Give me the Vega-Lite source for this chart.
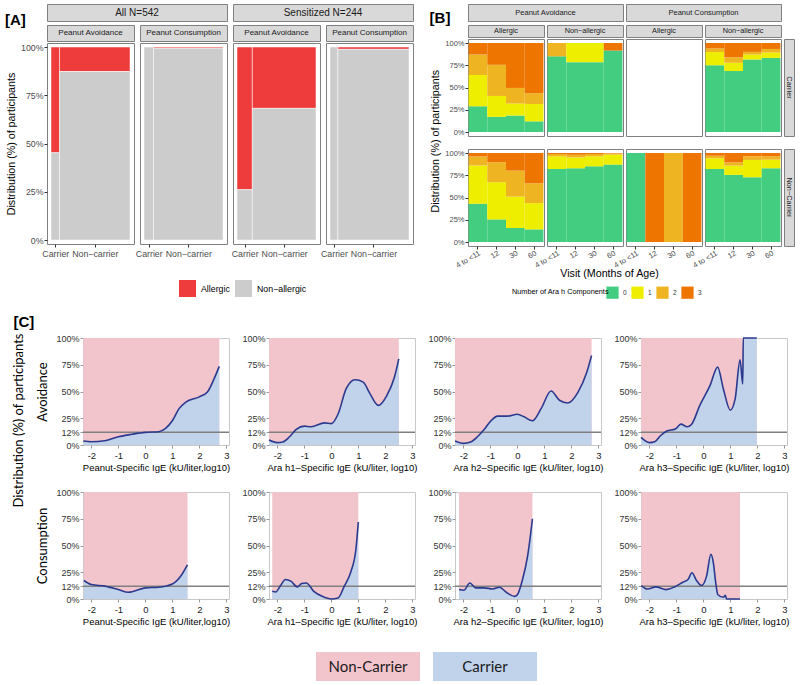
{
"$schema": "https://vega.github.io/schema/vega-lite/v6.json",
"padding": {"left": 5, "top": 3, "right": 2, "bottom": 1},
"background": "white",
"config": {
  "font": "Liberation Sans",
  "view": {"stroke": null},
  "axis": {"grid": false, "domain": false, "labelOverlap": false, "titleFontWeight": "normal", "titleColor": "#000000", "labelColor": "#4d4d4d", "tickColor": "#333333", "labelFont": "Liberation Sans", "titleFont": "Liberation Sans"},
  "legend": {"labelFont": "Liberation Sans", "titleFont": "Liberation Sans"},
  "title": {"font": "Liberation Sans", "color": "#000000"}
},
"datasets": {
  "mosaic": [
    {"g": "All", "o": "Avoidance", "c": "Carrier", "share": 0.108, "s": "Allergic", "p": 0.548},
    {"g": "All", "o": "Avoidance", "c": "Carrier", "share": 0.108, "s": "Non−allergic", "p": 0.452},
    {"g": "All", "o": "Avoidance", "c": "Non-carrier", "share": 0.892, "s": "Allergic", "p": 0.127},
    {"g": "All", "o": "Avoidance", "c": "Non-carrier", "share": 0.892, "s": "Non−allergic", "p": 0.873},
    {"g": "All", "o": "Consumption", "c": "Carrier", "share": 0.12, "s": "Allergic", "p": 0},
    {"g": "All", "o": "Consumption", "c": "Carrier", "share": 0.12, "s": "Non−allergic", "p": 1},
    {"g": "All", "o": "Consumption", "c": "Non-carrier", "share": 0.88, "s": "Allergic", "p": 0.006},
    {"g": "All", "o": "Consumption", "c": "Non-carrier", "share": 0.88, "s": "Non−allergic", "p": 0.994},
    {"g": "Sens", "o": "Avoidance", "c": "Carrier", "share": 0.194, "s": "Allergic", "p": 0.739},
    {"g": "Sens", "o": "Avoidance", "c": "Carrier", "share": 0.194, "s": "Non−allergic", "p": 0.261},
    {"g": "Sens", "o": "Avoidance", "c": "Non-carrier", "share": 0.806, "s": "Allergic", "p": 0.318},
    {"g": "Sens", "o": "Avoidance", "c": "Non-carrier", "share": 0.806, "s": "Non−allergic", "p": 0.682},
    {"g": "Sens", "o": "Consumption", "c": "Carrier", "share": 0.10, "s": "Allergic", "p": 0},
    {"g": "Sens", "o": "Consumption", "c": "Carrier", "share": 0.10, "s": "Non−allergic", "p": 1},
    {"g": "Sens", "o": "Consumption", "c": "Non-carrier", "share": 0.90, "s": "Allergic", "p": 0.012},
    {"g": "Sens", "o": "Consumption", "c": "Non-carrier", "share": 0.90, "s": "Non−allergic", "p": 0.988}
  ],
  "visits": [
    {"o":"Av","al":"A","ca":"C","v":"4 to <11","k":"0","p":29},{"o":"Av","al":"A","ca":"C","v":"4 to <11","k":"1","p":35},{"o":"Av","al":"A","ca":"C","v":"4 to <11","k":"2","p":23},{"o":"Av","al":"A","ca":"C","v":"4 to <11","k":"3","p":13},
    {"o":"Av","al":"A","ca":"C","v":"12","k":"0","p":17},{"o":"Av","al":"A","ca":"C","v":"12","k":"1","p":23.5},{"o":"Av","al":"A","ca":"C","v":"12","k":"2","p":35},{"o":"Av","al":"A","ca":"C","v":"12","k":"3","p":24.5},
    {"o":"Av","al":"A","ca":"C","v":"30","k":"0","p":18.5},{"o":"Av","al":"A","ca":"C","v":"30","k":"1","p":13.5},{"o":"Av","al":"A","ca":"C","v":"30","k":"2","p":17.5},{"o":"Av","al":"A","ca":"C","v":"30","k":"3","p":50.5},
    {"o":"Av","al":"A","ca":"C","v":"60","k":"0","p":12},{"o":"Av","al":"A","ca":"C","v":"60","k":"1","p":19.5},{"o":"Av","al":"A","ca":"C","v":"60","k":"2","p":12},{"o":"Av","al":"A","ca":"C","v":"60","k":"3","p":56.5},
    {"o":"Av","al":"N","ca":"C","v":"4 to <11","k":"0","p":85},{"o":"Av","al":"N","ca":"C","v":"4 to <11","k":"2","p":15},
    {"o":"Av","al":"N","ca":"C","v":"12","k":"0","p":78.5},{"o":"Av","al":"N","ca":"C","v":"12","k":"1","p":21.5},
    {"o":"Av","al":"N","ca":"C","v":"30","k":"0","p":78.5},{"o":"Av","al":"N","ca":"C","v":"30","k":"1","p":21.5},
    {"o":"Av","al":"N","ca":"C","v":"60","k":"0","p":91.5},{"o":"Av","al":"N","ca":"C","v":"60","k":"3","p":8.5},
    {"o":"Co","al":"N","ca":"C","v":"4 to <11","k":"0","p":75},{"o":"Co","al":"N","ca":"C","v":"4 to <11","k":"1","p":15},{"o":"Co","al":"N","ca":"C","v":"4 to <11","k":"2","p":3.7},{"o":"Co","al":"N","ca":"C","v":"4 to <11","k":"3","p":6.3},
    {"o":"Co","al":"N","ca":"C","v":"12","k":"0","p":68.5},{"o":"Co","al":"N","ca":"C","v":"12","k":"1","p":9.3},{"o":"Co","al":"N","ca":"C","v":"12","k":"2","p":6.2},{"o":"Co","al":"N","ca":"C","v":"12","k":"3","p":16},
    {"o":"Co","al":"N","ca":"C","v":"30","k":"0","p":81.5},{"o":"Co","al":"N","ca":"C","v":"30","k":"1","p":5.5},{"o":"Co","al":"N","ca":"C","v":"30","k":"2","p":3},{"o":"Co","al":"N","ca":"C","v":"30","k":"3","p":10},
    {"o":"Co","al":"N","ca":"C","v":"60","k":"0","p":83.3},{"o":"Co","al":"N","ca":"C","v":"60","k":"1","p":6},{"o":"Co","al":"N","ca":"C","v":"60","k":"2","p":4},{"o":"Co","al":"N","ca":"C","v":"60","k":"3","p":6.7},
    {"o":"Av","al":"A","ca":"N","v":"4 to <11","k":"0","p":43},{"o":"Av","al":"A","ca":"N","v":"4 to <11","k":"1","p":43},{"o":"Av","al":"A","ca":"N","v":"4 to <11","k":"2","p":10},{"o":"Av","al":"A","ca":"N","v":"4 to <11","k":"3","p":4},
    {"o":"Av","al":"A","ca":"N","v":"12","k":"0","p":25.4},{"o":"Av","al":"A","ca":"N","v":"12","k":"1","p":41.8},{"o":"Av","al":"A","ca":"N","v":"12","k":"2","p":22.4},{"o":"Av","al":"A","ca":"N","v":"12","k":"3","p":10.4},
    {"o":"Av","al":"A","ca":"N","v":"30","k":"0","p":15.7},{"o":"Av","al":"A","ca":"N","v":"30","k":"1","p":35.3},{"o":"Av","al":"A","ca":"N","v":"30","k":"2","p":29.2},{"o":"Av","al":"A","ca":"N","v":"30","k":"3","p":19.8},
    {"o":"Av","al":"A","ca":"N","v":"60","k":"0","p":14.2},{"o":"Av","al":"A","ca":"N","v":"60","k":"1","p":29.5},{"o":"Av","al":"A","ca":"N","v":"60","k":"2","p":22.3},{"o":"Av","al":"A","ca":"N","v":"60","k":"3","p":34},
    {"o":"Av","al":"N","ca":"N","v":"4 to <11","k":"0","p":82},{"o":"Av","al":"N","ca":"N","v":"4 to <11","k":"1","p":14.3},{"o":"Av","al":"N","ca":"N","v":"4 to <11","k":"2","p":2.6},{"o":"Av","al":"N","ca":"N","v":"4 to <11","k":"3","p":1.1},
    {"o":"Av","al":"N","ca":"N","v":"12","k":"0","p":82.8},{"o":"Av","al":"N","ca":"N","v":"12","k":"1","p":12.2},{"o":"Av","al":"N","ca":"N","v":"12","k":"2","p":3},{"o":"Av","al":"N","ca":"N","v":"12","k":"3","p":2},
    {"o":"Av","al":"N","ca":"N","v":"30","k":"0","p":85},{"o":"Av","al":"N","ca":"N","v":"30","k":"1","p":11.3},{"o":"Av","al":"N","ca":"N","v":"30","k":"2","p":2.6},{"o":"Av","al":"N","ca":"N","v":"30","k":"3","p":1.1},
    {"o":"Av","al":"N","ca":"N","v":"60","k":"0","p":87},{"o":"Av","al":"N","ca":"N","v":"60","k":"1","p":11.2},{"o":"Av","al":"N","ca":"N","v":"60","k":"2","p":1.2},{"o":"Av","al":"N","ca":"N","v":"60","k":"3","p":0.6},
    {"o":"Co","al":"A","ca":"N","v":"4 to <11","k":"0","p":100},{"o":"Co","al":"A","ca":"N","v":"12","k":"3","p":100},{"o":"Co","al":"A","ca":"N","v":"30","k":"2","p":100},{"o":"Co","al":"A","ca":"N","v":"60","k":"3","p":100},
    {"o":"Co","al":"N","ca":"N","v":"4 to <11","k":"0","p":82},{"o":"Co","al":"N","ca":"N","v":"4 to <11","k":"1","p":12},{"o":"Co","al":"N","ca":"N","v":"4 to <11","k":"2","p":3},{"o":"Co","al":"N","ca":"N","v":"4 to <11","k":"3","p":3},
    {"o":"Co","al":"N","ca":"N","v":"12","k":"0","p":75.4},{"o":"Co","al":"N","ca":"N","v":"12","k":"1","p":10.4},{"o":"Co","al":"N","ca":"N","v":"12","k":"2","p":3.8},{"o":"Co","al":"N","ca":"N","v":"12","k":"3","p":10.4},
    {"o":"Co","al":"N","ca":"N","v":"30","k":"0","p":72.8},{"o":"Co","al":"N","ca":"N","v":"30","k":"1","p":19.4},{"o":"Co","al":"N","ca":"N","v":"30","k":"2","p":4.1},{"o":"Co","al":"N","ca":"N","v":"30","k":"3","p":3.7},
    {"o":"Co","al":"N","ca":"N","v":"60","k":"0","p":82.8},{"o":"Co","al":"N","ca":"N","v":"60","k":"1","p":9.7},{"o":"Co","al":"N","ca":"N","v":"60","k":"2","p":3.8},{"o":"Co","al":"N","ca":"N","v":"60","k":"3","p":3.7}
  ],
  "curves": [
    {"a":"P","o":"A","x":-2.3,"y":3.7},{"a":"P","o":"A","x":-2,"y":3},{"a":"P","o":"A","x":-1.5,"y":4},{"a":"P","o":"A","x":-1,"y":7.7},{"a":"P","o":"A","x":-0.5,"y":10},{"a":"P","o":"A","x":0,"y":11.8},{"a":"P","o":"A","x":0.5,"y":12.4},{"a":"P","o":"A","x":0.75,"y":15.5},{"a":"P","o":"A","x":1,"y":22.6},{"a":"P","o":"A","x":1.25,"y":34},{"a":"P","o":"A","x":1.5,"y":40},{"a":"P","o":"A","x":2,"y":45},{"a":"P","o":"A","x":2.3,"y":49.5},{"a":"P","o":"A","x":2.55,"y":62},{"a":"P","o":"A","x":2.74,"y":73.5},
    {"a":"P","o":"C","x":-2.28,"y":17.3},{"a":"P","o":"C","x":-2,"y":13.5},{"a":"P","o":"C","x":-1.5,"y":12},{"a":"P","o":"C","x":-1,"y":8.8},{"a":"P","o":"C","x":-0.63,"y":6.3},{"a":"P","o":"C","x":0,"y":10.4},{"a":"P","o":"C","x":0.5,"y":11},{"a":"P","o":"C","x":1,"y":14},{"a":"P","o":"C","x":1.3,"y":21},{"a":"P","o":"C","x":1.56,"y":32},
    {"a":"h1","o":"A","x":-2.31,"y":4.6},{"a":"h1","o":"A","x":-2,"y":2.2},{"a":"h1","o":"A","x":-1.8,"y":2.8},{"a":"h1","o":"A","x":-1.55,"y":7.7},{"a":"h1","o":"A","x":-1.3,"y":14.5},{"a":"h1","o":"A","x":-1,"y":17.6},{"a":"h1","o":"A","x":-0.75,"y":17},{"a":"h1","o":"A","x":-0.25,"y":20.7},{"a":"h1","o":"A","x":0,"y":20},{"a":"h1","o":"A","x":0.25,"y":29},{"a":"h1","o":"A","x":0.55,"y":52.6},{"a":"h1","o":"A","x":0.88,"y":61},{"a":"h1","o":"A","x":1.18,"y":58.8},{"a":"h1","o":"A","x":1.43,"y":48},{"a":"h1","o":"A","x":1.74,"y":37},{"a":"h1","o":"A","x":2.05,"y":46},{"a":"h1","o":"A","x":2.34,"y":63.5},{"a":"h1","o":"A","x":2.5,"y":80.5},
    {"a":"h1","o":"C","x":-2.19,"y":7.2},{"a":"h1","o":"C","x":-2.06,"y":6.6},{"a":"h1","o":"C","x":-1.88,"y":12.6},{"a":"h1","o":"C","x":-1.7,"y":18.2},{"a":"h1","o":"C","x":-1.5,"y":16.7},{"a":"h1","o":"C","x":-1.26,"y":11.3},{"a":"h1","o":"C","x":-1.1,"y":14.5},{"a":"h1","o":"C","x":-0.93,"y":15},{"a":"h1","o":"C","x":-0.65,"y":7.2},{"a":"h1","o":"C","x":-0.34,"y":2.5},{"a":"h1","o":"C","x":0,"y":0},{"a":"h1","o":"C","x":0.25,"y":0.9},{"a":"h1","o":"C","x":0.48,"y":12},{"a":"h1","o":"C","x":0.73,"y":26},{"a":"h1","o":"C","x":0.91,"y":46.5},{"a":"h1","o":"C","x":1.0,"y":72},
    {"a":"h2","o":"A","x":-2.31,"y":3.7},{"a":"h2","o":"A","x":-2,"y":1.5},{"a":"h2","o":"A","x":-1.73,"y":2.8},{"a":"h2","o":"A","x":-1.48,"y":7.7},{"a":"h2","o":"A","x":-1.23,"y":14.5},{"a":"h2","o":"A","x":-0.98,"y":22.6},{"a":"h2","o":"A","x":-0.73,"y":27},{"a":"h2","o":"A","x":-0.37,"y":27},{"a":"h2","o":"A","x":0,"y":28.8},{"a":"h2","o":"A","x":0.25,"y":26.3},{"a":"h2","o":"A","x":0.56,"y":22.6},{"a":"h2","o":"A","x":0.88,"y":34},{"a":"h2","o":"A","x":1.25,"y":50.5},{"a":"h2","o":"A","x":1.56,"y":41.8},{"a":"h2","o":"A","x":1.87,"y":39.3},{"a":"h2","o":"A","x":2.25,"y":49.5},{"a":"h2","o":"A","x":2.56,"y":67},{"a":"h2","o":"A","x":2.75,"y":83.6},
    {"a":"h2","o":"C","x":-2.16,"y":8.8},{"a":"h2","o":"C","x":-1.98,"y":8.2},{"a":"h2","o":"C","x":-1.76,"y":15},{"a":"h2","o":"C","x":-1.54,"y":10.4},{"a":"h2","o":"C","x":-1.23,"y":10.4},{"a":"h2","o":"C","x":-0.91,"y":9.4},{"a":"h2","o":"C","x":-0.66,"y":11},{"a":"h2","o":"C","x":-0.41,"y":6.3},{"a":"h2","o":"C","x":-0.1,"y":2.5},{"a":"h2","o":"C","x":0,"y":4},{"a":"h2","o":"C","x":0.19,"y":18},{"a":"h2","o":"C","x":0.38,"y":40},{"a":"h2","o":"C","x":0.56,"y":75},
    {"a":"h3","o":"A","x":-2.31,"y":7.1},{"a":"h3","o":"A","x":-2,"y":2.2},{"a":"h3","o":"A","x":-1.8,"y":3},{"a":"h3","o":"A","x":-1.6,"y":8.4},{"a":"h3","o":"A","x":-1.35,"y":13},{"a":"h3","o":"A","x":-1.04,"y":14.9},{"a":"h3","o":"A","x":-0.83,"y":19.5},{"a":"h3","o":"A","x":-0.6,"y":17},{"a":"h3","o":"A","x":-0.44,"y":19.2},{"a":"h3","o":"A","x":-0.13,"y":37},{"a":"h3","o":"A","x":0.25,"y":55.7},{"a":"h3","o":"A","x":0.53,"y":72.8},{"a":"h3","o":"A","x":0.74,"y":52.6},{"a":"h3","o":"A","x":1,"y":32.5},{"a":"h3","o":"A","x":1.18,"y":43.3},{"a":"h3","o":"A","x":1.36,"y":79.6},{"a":"h3","o":"A","x":1.46,"y":57},{"a":"h3","o":"A","x":1.48,"y":100},{"a":"h3","o":"A","x":1.98,"y":100},
    {"a":"h3","o":"C","x":-2.3,"y":12.6},{"a":"h3","o":"C","x":-2.07,"y":9.4},{"a":"h3","o":"C","x":-1.76,"y":11.3},{"a":"h3","o":"C","x":-1.38,"y":8.8},{"a":"h3","o":"C","x":-1.07,"y":11.3},{"a":"h3","o":"C","x":-0.76,"y":15.7},{"a":"h3","o":"C","x":-0.57,"y":18.2},{"a":"h3","o":"C","x":-0.42,"y":24.5},{"a":"h3","o":"C","x":-0.26,"y":17.6},{"a":"h3","o":"C","x":-0.07,"y":12.6},{"a":"h3","o":"C","x":0.12,"y":21.4},{"a":"h3","o":"C","x":0.28,"y":41.8},{"a":"h3","o":"C","x":0.37,"y":34},{"a":"h3","o":"C","x":0.46,"y":15},{"a":"h3","o":"C","x":0.54,"y":4},{"a":"h3","o":"C","x":0.74,"y":1.6},{"a":"h3","o":"C","x":0.82,"y":3.5},{"a":"h3","o":"C","x":0.86,"y":0},{"a":"h3","o":"C","x":1.36,"y":0}
  ]
},
"resolve": {"scale": {"color": "independent"}, "legend": {"color": "independent"}},
"spacing": 15,
"vconcat": [
{
  "spacing": 15,
  "resolve": {"scale": {"color": "independent"}, "legend": {"color": "independent"}},
  "hconcat": [
  {
    "title": {"text": "[A]", "anchor": "start", "fontSize": 15, "fontWeight": "bold", "offset": -24},
    "spacing": 0,
    "vconcat": [
      {"spacing": 2, "vconcat": [
        {"spacing": 6, "bounds": "flush", "hconcat": [
          {"data": {"values": [{"t": "All N=542"}]}, "width": 180, "height": 17, "view": {"fill": "#d9d9d9", "stroke": "#808080"}, "mark": {"type": "text", "fontSize": 10, "color": "#1a1a1a"}, "encoding": {"text": {"field": "t"}}},
          {"data": {"values": [{"t": "Sensitized N=244"}]}, "width": 180, "height": 17, "view": {"fill": "#d9d9d9", "stroke": "#808080"}, "mark": {"type": "text", "fontSize": 10, "color": "#1a1a1a"}, "encoding": {"text": {"field": "t"}}}
        ]},
        {"spacing": 6, "bounds": "flush", "hconcat": [
          {"data": {"values": [{"t": "Peanut Avoidance"}]}, "width": 87, "height": 16, "view": {"fill": "#d9d9d9", "stroke": "#808080"}, "mark": {"type": "text", "fontSize": 8, "color": "#1a1a1a"}, "encoding": {"text": {"field": "t"}}},
          {"data": {"values": [{"t": "Peanut Consumption"}]}, "width": 87, "height": 16, "view": {"fill": "#d9d9d9", "stroke": "#808080"}, "mark": {"type": "text", "fontSize": 8, "color": "#1a1a1a"}, "encoding": {"text": {"field": "t"}}},
          {"data": {"values": [{"t": "Peanut Avoidance"}]}, "width": 87, "height": 16, "view": {"fill": "#d9d9d9", "stroke": "#808080"}, "mark": {"type": "text", "fontSize": 8, "color": "#1a1a1a"}, "encoding": {"text": {"field": "t"}}},
          {"data": {"values": [{"t": "Peanut Consumption"}]}, "width": 87, "height": 16, "view": {"fill": "#d9d9d9", "stroke": "#808080"}, "mark": {"type": "text", "fontSize": 8, "color": "#1a1a1a"}, "encoding": {"text": {"field": "t"}}}
        ]}
      ]},
      {"spacing": 6, "bounds": "flush", "hconcat": [
      {
        "data": {"name": "mosaic"},
        "transform": [
          {"filter": "datum.g === 'All' && datum.o === 'Avoidance'"},
          {"stack": "share", "groupby": ["s"], "sort": [{"field": "c", "order": "ascending"}], "as": ["x0", "x1"]},
          {"stack": "p", "groupby": ["c"], "sort": [{"field": "s", "order": "descending"}], "as": ["y0", "y1"]}
        ],
        "width": 87, "height": 201, "view": {"stroke": "#808080"},
        "mark": {"type": "rect", "stroke": "#ffffff", "strokeWidth": 0.5},
        "encoding": {
          "x": {"field": "x0", "type": "quantitative", "scale": {"domain": [0, 1], "nice": false, "zero": false, "padding": 4}, "axis": {"values": [0.054, 0.554], "labelExpr": "datum.value < 0.3 ? 'Carrier' : 'Non−carrier'", "title": null, "labelFlush": false, "labelBound": false, "tickSize": 3, "labelFontSize": 8.8, "labelPadding": 2}},
          "x2": {"field": "x1"},
          "y": {"field": "y0", "type": "quantitative", "scale": {"domain": [0, 1], "nice": false, "zero": false, "padding": 4}, "axis": {"values": [0, 0.25, 0.5, 0.75, 1], "format": ".0%", "title": "Distribution (%) of participants", "titleFontSize": 10.7, "titlePadding": 4, "labelFontSize": 8.8, "tickSize": 3, "labelPadding": 1}},
          "y2": {"field": "y1"},
          "color": {"field": "s", "type": "nominal", "scale": {"domain": ["Allergic", "Non−allergic"], "range": ["#EE3B3B", "#CCCCCC"]}, "legend": {"orient": "none", "legendX": 132, "legendY": 276, "direction": "horizontal", "title": null, "symbolType": "square", "symbolSize": 289, "symbolStrokeWidth": 0, "labelFontSize": 8.8, "labelColor": "#000000", "labelOffset": 5, "columnPadding": 5}}
        }
      },
      {
        "data": {"name": "mosaic"},
        "transform": [
          {"filter": "datum.g === 'All' && datum.o === 'Consumption'"},
          {"stack": "share", "groupby": ["s"], "sort": [{"field": "c", "order": "ascending"}], "as": ["x0", "x1"]},
          {"stack": "p", "groupby": ["c"], "sort": [{"field": "s", "order": "descending"}], "as": ["y0", "y1"]}
        ],
        "width": 87, "height": 201, "view": {"stroke": "#808080"},
        "mark": {"type": "rect", "stroke": "#ffffff", "strokeWidth": 0.5},
        "encoding": {
          "x": {"field": "x0", "type": "quantitative", "scale": {"domain": [0, 1], "nice": false, "zero": false, "padding": 4}, "axis": {"values": [0.06, 0.56], "labelExpr": "datum.value < 0.3 ? 'Carrier' : 'Non−carrier'", "title": null, "labelFlush": false, "labelBound": false, "tickSize": 3, "labelFontSize": 8.8, "labelPadding": 2}},
          "x2": {"field": "x1"},
          "y": {"field": "y0", "type": "quantitative", "scale": {"domain": [0, 1], "nice": false, "zero": false, "padding": 4}, "axis": null},
          "y2": {"field": "y1"},
          "color": {"field": "s", "type": "nominal", "scale": {"domain": ["Allergic", "Non−allergic"], "range": ["#EE3B3B", "#CCCCCC"]}, "legend": {"orient": "none", "legendX": 132, "legendY": 276, "direction": "horizontal", "title": null, "symbolType": "square", "symbolSize": 289, "symbolStrokeWidth": 0, "labelFontSize": 8.8, "labelColor": "#000000", "labelOffset": 5, "columnPadding": 5}}
        }
      },
      {
        "data": {"name": "mosaic"},
        "transform": [
          {"filter": "datum.g === 'Sens' && datum.o === 'Avoidance'"},
          {"stack": "share", "groupby": ["s"], "sort": [{"field": "c", "order": "ascending"}], "as": ["x0", "x1"]},
          {"stack": "p", "groupby": ["c"], "sort": [{"field": "s", "order": "descending"}], "as": ["y0", "y1"]}
        ],
        "width": 87, "height": 201, "view": {"stroke": "#808080"},
        "mark": {"type": "rect", "stroke": "#ffffff", "strokeWidth": 0.5},
        "encoding": {
          "x": {"field": "x0", "type": "quantitative", "scale": {"domain": [0, 1], "nice": false, "zero": false, "padding": 4}, "axis": {"values": [0.097, 0.597], "labelExpr": "datum.value < 0.3 ? 'Carrier' : 'Non−carrier'", "title": null, "labelFlush": false, "labelBound": false, "tickSize": 3, "labelFontSize": 8.8, "labelPadding": 2}},
          "x2": {"field": "x1"},
          "y": {"field": "y0", "type": "quantitative", "scale": {"domain": [0, 1], "nice": false, "zero": false, "padding": 4}, "axis": null},
          "y2": {"field": "y1"},
          "color": {"field": "s", "type": "nominal", "scale": {"domain": ["Allergic", "Non−allergic"], "range": ["#EE3B3B", "#CCCCCC"]}, "legend": {"orient": "none", "legendX": 132, "legendY": 276, "direction": "horizontal", "title": null, "symbolType": "square", "symbolSize": 289, "symbolStrokeWidth": 0, "labelFontSize": 8.8, "labelColor": "#000000", "labelOffset": 5, "columnPadding": 5}}
        }
      },
      {
        "data": {"name": "mosaic"},
        "transform": [
          {"filter": "datum.g === 'Sens' && datum.o === 'Consumption'"},
          {"stack": "share", "groupby": ["s"], "sort": [{"field": "c", "order": "ascending"}], "as": ["x0", "x1"]},
          {"stack": "p", "groupby": ["c"], "sort": [{"field": "s", "order": "descending"}], "as": ["y0", "y1"]}
        ],
        "width": 87, "height": 201, "view": {"stroke": "#808080"},
        "mark": {"type": "rect", "stroke": "#ffffff", "strokeWidth": 0.5},
        "encoding": {
          "x": {"field": "x0", "type": "quantitative", "scale": {"domain": [0, 1], "nice": false, "zero": false, "padding": 4}, "axis": {"values": [0.05, 0.55], "labelExpr": "datum.value < 0.3 ? 'Carrier' : 'Non−carrier'", "title": null, "labelFlush": false, "labelBound": false, "tickSize": 3, "labelFontSize": 8.8, "labelPadding": 2}},
          "x2": {"field": "x1"},
          "y": {"field": "y0", "type": "quantitative", "scale": {"domain": [0, 1], "nice": false, "zero": false, "padding": 4}, "axis": null},
          "y2": {"field": "y1"},
          "color": {"field": "s", "type": "nominal", "scale": {"domain": ["Allergic", "Non−allergic"], "range": ["#EE3B3B", "#CCCCCC"]}, "legend": {"orient": "none", "legendX": 132, "legendY": 276, "direction": "horizontal", "title": null, "symbolType": "square", "symbolSize": 289, "symbolStrokeWidth": 0, "labelFontSize": 8.8, "labelColor": "#000000", "labelOffset": 5, "columnPadding": 5}}
        }
      }
      ]}
    ]
  },
  {
    "title": {"text": "[B]", "anchor": "start", "fontSize": 15, "fontWeight": "bold", "offset": -22},
    "vconcat": [
    {
      "title": {"text": "Distribution (%) of participants", "orient": "left", "anchor": "middle", "fontSize": 10.7, "fontWeight": "normal", "offset": 3},
      "spacing": 0,
      "vconcat": [
        {"spacing": 2, "vconcat": [
          {"spacing": 3, "bounds": "flush", "hconcat": [
            {"data": {"values": [{"t": "Peanut Avoidance"}]}, "width": 155, "height": 17, "view": {"fill": "#d9d9d9", "stroke": "#808080"}, "mark": {"type": "text", "fontSize": 7.5, "color": "#1a1a1a"}, "encoding": {"text": {"field": "t"}}},
            {"data": {"values": [{"t": "Peanut Consumption"}]}, "width": 155, "height": 17, "view": {"fill": "#d9d9d9", "stroke": "#808080"}, "mark": {"type": "text", "fontSize": 7.5, "color": "#1a1a1a"}, "encoding": {"text": {"field": "t"}}}
          ]},
          {"spacing": 3, "bounds": "flush", "hconcat": [
            {"data": {"values": [{"t": "Allergic"}]}, "width": 76, "height": 12, "view": {"fill": "#d9d9d9", "stroke": "#808080"}, "mark": {"type": "text", "fontSize": 7.3, "color": "#1a1a1a"}, "encoding": {"text": {"field": "t"}}},
            {"data": {"values": [{"t": "Non−allergic"}]}, "width": 76, "height": 12, "view": {"fill": "#d9d9d9", "stroke": "#808080"}, "mark": {"type": "text", "fontSize": 7.3, "color": "#1a1a1a"}, "encoding": {"text": {"field": "t"}}},
            {"data": {"values": [{"t": "Allergic"}]}, "width": 76, "height": 12, "view": {"fill": "#d9d9d9", "stroke": "#808080"}, "mark": {"type": "text", "fontSize": 7.3, "color": "#1a1a1a"}, "encoding": {"text": {"field": "t"}}},
            {"data": {"values": [{"t": "Non−allergic"}]}, "width": 76, "height": 12, "view": {"fill": "#d9d9d9", "stroke": "#808080"}, "mark": {"type": "text", "fontSize": 7.3, "color": "#1a1a1a"}, "encoding": {"text": {"field": "t"}}}
          ]}
        ]},
        {"spacing": 3, "bounds": "flush", "hconcat": [
          {"data": {"name": "visits"}, "transform": [{"filter": "datum.o === 'Av' && datum.al === 'A' && datum.ca === 'C'"}], "width": 76, "height": 97, "view": {"stroke": "#808080"}, "mark": {"type": "bar"},
           "encoding": {
             "x": {"field": "v", "type": "ordinal", "scale": {"domain": ["4 to <11", "12", "30", "60"], "paddingInner": 0, "paddingOuter": 0.03}, "axis": null},
             "y": {"field": "p", "type": "quantitative", "stack": "normalize", "scale": {"domain": [0, 1], "nice": false, "zero": false, "padding": 4}, "axis": {"values": [0, 0.25, 0.5, 0.75, 1], "format": ".0%", "labelFontSize": 7.5, "tickSize": 3, "labelPadding": 1, "title": null}},
             "color": {"field": "k", "type": "nominal", "scale": {"domain": ["0", "1", "2", "3"], "range": ["#43CD80", "#EEEE00", "#EEB422", "#EE7600"]}, "legend": {"orient": "none", "legendX": 44, "legendY": 282, "direction": "horizontal", "title": "Number of Ara h Components", "titleOrient": "left", "titleFontSize": 7.3, "titleFontWeight": "normal", "titleColor": "#000000", "titlePadding": -3, "symbolType": "square", "symbolSize": 150, "symbolStrokeWidth": 0, "labelFontSize": 6.5, "labelColor": "#333333", "labelOffset": 4, "columnPadding": 4}},
             "order": {"field": "k", "sort": "ascending"}
           }},
          {"data": {"name": "visits"}, "transform": [{"filter": "datum.o === 'Av' && datum.al === 'N' && datum.ca === 'C'"}], "width": 76, "height": 97, "view": {"stroke": "#808080"}, "mark": {"type": "bar"},
           "encoding": {
             "x": {"field": "v", "type": "ordinal", "scale": {"domain": ["4 to <11", "12", "30", "60"], "paddingInner": 0, "paddingOuter": 0.03}, "axis": null},
             "y": {"field": "p", "type": "quantitative", "stack": "normalize", "scale": {"domain": [0, 1], "nice": false, "zero": false, "padding": 4}, "axis": null},
             "color": {"field": "k", "type": "nominal", "scale": {"domain": ["0", "1", "2", "3"], "range": ["#43CD80", "#EEEE00", "#EEB422", "#EE7600"]}, "legend": {"orient": "none", "legendX": 44, "legendY": 282, "direction": "horizontal", "title": "Number of Ara h Components", "titleOrient": "left", "titleFontSize": 7.3, "titleFontWeight": "normal", "titleColor": "#000000", "titlePadding": -3, "symbolType": "square", "symbolSize": 150, "symbolStrokeWidth": 0, "labelFontSize": 6.5, "labelColor": "#333333", "labelOffset": 4, "columnPadding": 4}},
             "order": {"field": "k", "sort": "ascending"}
           }},
          {"data": {"name": "visits"}, "transform": [{"filter": "datum.o === 'Co' && datum.al === 'A' && datum.ca === 'C'"}], "width": 76, "height": 97, "view": {"stroke": "#808080"}, "mark": {"type": "bar"},
           "encoding": {
             "x": {"field": "v", "type": "ordinal", "scale": {"domain": ["4 to <11", "12", "30", "60"], "paddingInner": 0, "paddingOuter": 0.03}, "axis": null},
             "y": {"field": "p", "type": "quantitative", "stack": "normalize", "scale": {"domain": [0, 1], "nice": false, "zero": false, "padding": 4}, "axis": null},
             "color": {"field": "k", "type": "nominal", "scale": {"domain": ["0", "1", "2", "3"], "range": ["#43CD80", "#EEEE00", "#EEB422", "#EE7600"]}, "legend": {"orient": "none", "legendX": 44, "legendY": 282, "direction": "horizontal", "title": "Number of Ara h Components", "titleOrient": "left", "titleFontSize": 7.3, "titleFontWeight": "normal", "titleColor": "#000000", "titlePadding": -3, "symbolType": "square", "symbolSize": 150, "symbolStrokeWidth": 0, "labelFontSize": 6.5, "labelColor": "#333333", "labelOffset": 4, "columnPadding": 4}},
             "order": {"field": "k", "sort": "ascending"}
           }},
          {"data": {"name": "visits"}, "transform": [{"filter": "datum.o === 'Co' && datum.al === 'N' && datum.ca === 'C'"}], "width": 76, "height": 97, "view": {"stroke": "#808080"}, "mark": {"type": "bar"},
           "encoding": {
             "x": {"field": "v", "type": "ordinal", "scale": {"domain": ["4 to <11", "12", "30", "60"], "paddingInner": 0, "paddingOuter": 0.03}, "axis": null},
             "y": {"field": "p", "type": "quantitative", "stack": "normalize", "scale": {"domain": [0, 1], "nice": false, "zero": false, "padding": 4}, "axis": null},
             "color": {"field": "k", "type": "nominal", "scale": {"domain": ["0", "1", "2", "3"], "range": ["#43CD80", "#EEEE00", "#EEB422", "#EE7600"]}, "legend": {"orient": "none", "legendX": 44, "legendY": 282, "direction": "horizontal", "title": "Number of Ara h Components", "titleOrient": "left", "titleFontSize": 7.3, "titleFontWeight": "normal", "titleColor": "#000000", "titlePadding": -3, "symbolType": "square", "symbolSize": 150, "symbolStrokeWidth": 0, "labelFontSize": 6.5, "labelColor": "#333333", "labelOffset": 4, "columnPadding": 4}},
             "order": {"field": "k", "sort": "ascending"}
           }},
          {"data": {"values": [{"t": "Carrier"}]}, "width": 10, "height": 97, "view": {"fill": "#d9d9d9", "stroke": "#808080"}, "mark": {"type": "text", "fontSize": 7.3, "angle": 90, "color": "#1a1a1a"}, "encoding": {"text": {"field": "t"}}}
        ]},
        {"data": {"values": [{}]}, "width": 1, "height": 4, "mark": {"type": "text"}, "encoding": {"text": {"value": ""}}},
        {"spacing": 3, "bounds": "flush", "hconcat": [
          {"data": {"name": "visits"}, "transform": [{"filter": "datum.o === 'Av' && datum.al === 'A' && datum.ca === 'N'"}], "width": 76, "height": 97, "view": {"stroke": "#808080"}, "mark": {"type": "bar"},
           "encoding": {
             "x": {"field": "v", "type": "ordinal", "scale": {"domain": ["4 to <11", "12", "30", "60"], "paddingInner": 0, "paddingOuter": 0.03}, "axis": {"title": null, "labelAngle": -30, "labelAlign": "right", "labelBaseline": "top", "labelFontSize": 7.5, "tickSize": 3, "labelPadding": 0}},
             "y": {"field": "p", "type": "quantitative", "stack": "normalize", "scale": {"domain": [0, 1], "nice": false, "zero": false, "padding": 4}, "axis": {"values": [0, 0.25, 0.5, 0.75, 1], "format": ".0%", "labelFontSize": 7.5, "tickSize": 3, "labelPadding": 1, "title": null}},
             "color": {"field": "k", "type": "nominal", "scale": {"domain": ["0", "1", "2", "3"], "range": ["#43CD80", "#EEEE00", "#EEB422", "#EE7600"]}, "legend": {"orient": "none", "legendX": 44, "legendY": 282, "direction": "horizontal", "title": "Number of Ara h Components", "titleOrient": "left", "titleFontSize": 7.3, "titleFontWeight": "normal", "titleColor": "#000000", "titlePadding": -3, "symbolType": "square", "symbolSize": 150, "symbolStrokeWidth": 0, "labelFontSize": 6.5, "labelColor": "#333333", "labelOffset": 4, "columnPadding": 4}},
             "order": {"field": "k", "sort": "ascending"}
           }},
          {"data": {"name": "visits"}, "transform": [{"filter": "datum.o === 'Av' && datum.al === 'N' && datum.ca === 'N'"}], "width": 76, "height": 97, "view": {"stroke": "#808080"}, "mark": {"type": "bar"},
           "encoding": {
             "x": {"field": "v", "type": "ordinal", "scale": {"domain": ["4 to <11", "12", "30", "60"], "paddingInner": 0, "paddingOuter": 0.03}, "axis": {"title": "Visit (Months of Age)", "titleX": 62, "titleFontSize": 10.7, "titlePadding": 0, "labelAngle": -30, "labelAlign": "right", "labelBaseline": "top", "labelFontSize": 7.5, "tickSize": 3, "labelPadding": 0}},
             "y": {"field": "p", "type": "quantitative", "stack": "normalize", "scale": {"domain": [0, 1], "nice": false, "zero": false, "padding": 4}, "axis": null},
             "color": {"field": "k", "type": "nominal", "scale": {"domain": ["0", "1", "2", "3"], "range": ["#43CD80", "#EEEE00", "#EEB422", "#EE7600"]}, "legend": {"orient": "none", "legendX": 44, "legendY": 282, "direction": "horizontal", "title": "Number of Ara h Components", "titleOrient": "left", "titleFontSize": 7.3, "titleFontWeight": "normal", "titleColor": "#000000", "titlePadding": -3, "symbolType": "square", "symbolSize": 150, "symbolStrokeWidth": 0, "labelFontSize": 6.5, "labelColor": "#333333", "labelOffset": 4, "columnPadding": 4}},
             "order": {"field": "k", "sort": "ascending"}
           }},
          {"data": {"name": "visits"}, "transform": [{"filter": "datum.o === 'Co' && datum.al === 'A' && datum.ca === 'N'"}], "width": 76, "height": 97, "view": {"stroke": "#808080"}, "mark": {"type": "bar"},
           "encoding": {
             "x": {"field": "v", "type": "ordinal", "scale": {"domain": ["4 to <11", "12", "30", "60"], "paddingInner": 0, "paddingOuter": 0.03}, "axis": {"title": null, "labelAngle": -30, "labelAlign": "right", "labelBaseline": "top", "labelFontSize": 7.5, "tickSize": 3, "labelPadding": 0}},
             "y": {"field": "p", "type": "quantitative", "stack": "normalize", "scale": {"domain": [0, 1], "nice": false, "zero": false, "padding": 4}, "axis": null},
             "color": {"field": "k", "type": "nominal", "scale": {"domain": ["0", "1", "2", "3"], "range": ["#43CD80", "#EEEE00", "#EEB422", "#EE7600"]}, "legend": {"orient": "none", "legendX": 44, "legendY": 282, "direction": "horizontal", "title": "Number of Ara h Components", "titleOrient": "left", "titleFontSize": 7.3, "titleFontWeight": "normal", "titleColor": "#000000", "titlePadding": -3, "symbolType": "square", "symbolSize": 150, "symbolStrokeWidth": 0, "labelFontSize": 6.5, "labelColor": "#333333", "labelOffset": 4, "columnPadding": 4}},
             "order": {"field": "k", "sort": "ascending"}
           }},
          {"data": {"name": "visits"}, "transform": [{"filter": "datum.o === 'Co' && datum.al === 'N' && datum.ca === 'N'"}], "width": 76, "height": 97, "view": {"stroke": "#808080"}, "mark": {"type": "bar"},
           "encoding": {
             "x": {"field": "v", "type": "ordinal", "scale": {"domain": ["4 to <11", "12", "30", "60"], "paddingInner": 0, "paddingOuter": 0.03}, "axis": {"title": null, "labelAngle": -30, "labelAlign": "right", "labelBaseline": "top", "labelFontSize": 7.5, "tickSize": 3, "labelPadding": 0}},
             "y": {"field": "p", "type": "quantitative", "stack": "normalize", "scale": {"domain": [0, 1], "nice": false, "zero": false, "padding": 4}, "axis": null},
             "color": {"field": "k", "type": "nominal", "scale": {"domain": ["0", "1", "2", "3"], "range": ["#43CD80", "#EEEE00", "#EEB422", "#EE7600"]}, "legend": {"orient": "none", "legendX": 44, "legendY": 282, "direction": "horizontal", "title": "Number of Ara h Components", "titleOrient": "left", "titleFontSize": 7.3, "titleFontWeight": "normal", "titleColor": "#000000", "titlePadding": -3, "symbolType": "square", "symbolSize": 150, "symbolStrokeWidth": 0, "labelFontSize": 6.5, "labelColor": "#333333", "labelOffset": 4, "columnPadding": 4}},
             "order": {"field": "k", "sort": "ascending"}
           }},
          {"data": {"values": [{"t": "Non−Carrier"}]}, "width": 10, "height": 97, "view": {"fill": "#d9d9d9", "stroke": "#808080"}, "mark": {"type": "text", "fontSize": 7.3, "angle": 90, "color": "#1a1a1a"}, "encoding": {"text": {"field": "t"}}}
        ]}
      ]
    }
    ]
  }
  ]
},
{
  "title": {"text": "[C]", "anchor": "start", "fontSize": 15, "fontWeight": "bold", "offset": 3},
  "spacing": 25,
  "vconcat": [
  {
    "spacing": 4, "bounds": "flush",
    "hconcat": [
    {"data": {"values": [{}]}, "width": 32, "height": 1, "mark": {"type": "text"}, "encoding": {"text": {"value": ""}}},
    {
      "title": {"text": "Distribution (%) of participants", "orient": "left", "anchor": "end", "fontSize": 13, "fontWeight": "normal", "font": "Lato", "offset": 10},
      "columns": 4, "spacing": {"row": 47, "column": 40}, "bounds": "flush",
      "concat": [
        {"width": 146, "height": 107, "view": {"stroke": "#c8c8c8"}, "data": {"name": "curves"}, "transform": [{"filter": "datum.a === 'P' && datum.o === 'A'"}],
         "layer": [
           {"mark": {"type": "area", "color": "#f2c4cb"}, "encoding": {"x": {"field": "x", "type": "quantitative", "scale": {"domain": [-2.31, 3.1], "nice": false, "zero": false}, "axis": {"values": [-2, -1, 0, 1, 2, 3], "tickCount": 12, "labelExpr": "'' + datum.value", "title": "Peanut-Specific IgE (kU/liter,log10)", "titleFontSize": 9.5, "titlePadding": 3, "labelFontSize": 9.5, "labelColor": "#222222", "tickColor": "#999999", "tickSize": 3, "labelPadding": 2, "labelFlush": false, "labelBound": false}}, "y": {"datum": 100, "type": "quantitative", "scale": {"domain": [0, 100], "nice": false, "zero": false}, "axis": {"values": [0, 12, 25, 50, 75, 100], "tickCount": 12, "labelExpr": "datum.value + '%'", "labelFontSize": 9, "labelColor": "#333333", "tickColor": "#999999", "tickSize": 3, "labelPadding": 1, "title": "Avoidance", "titleFont": "Lato", "titleFontSize": 13, "titlePadding": 6}}}},
           {"mark": {"type": "area", "color": "#c1d2eb", "interpolate": "monotone"}, "encoding": {"x": {"field": "x", "type": "quantitative"}, "y": {"field": "y", "type": "quantitative"}}},
           {"data": {"values": [{}]}, "mark": {"type": "rule", "color": "#808080", "strokeWidth": 1.5}, "encoding": {"y": {"datum": 12, "type": "quantitative"}}},
           {"mark": {"type": "line", "color": "#2b3a8f", "strokeWidth": 1.6, "interpolate": "monotone"}, "encoding": {"x": {"field": "x", "type": "quantitative"}, "y": {"field": "y", "type": "quantitative"}}}
         ]},
        {"width": 146, "height": 107, "view": {"stroke": "#c8c8c8"}, "data": {"name": "curves"}, "transform": [{"filter": "datum.a === 'h1' && datum.o === 'A'"}],
         "layer": [
           {"mark": {"type": "area", "color": "#f2c4cb"}, "encoding": {"x": {"field": "x", "type": "quantitative", "scale": {"domain": [-2.31, 3.1], "nice": false, "zero": false}, "axis": {"values": [-2, -1, 0, 1, 2, 3], "tickCount": 12, "labelExpr": "'' + datum.value", "title": "Ara h1–Specific IgE (kU/liter, log10)", "titleFontSize": 9.5, "titlePadding": 3, "labelFontSize": 9.5, "labelColor": "#222222", "tickColor": "#999999", "tickSize": 3, "labelPadding": 2, "labelFlush": false, "labelBound": false}}, "y": {"datum": 100, "type": "quantitative", "scale": {"domain": [0, 100], "nice": false, "zero": false}, "axis": {"values": [0, 12, 25, 50, 75, 100], "tickCount": 12, "labelExpr": "datum.value + '%'", "labelFontSize": 9, "labelColor": "#333333", "tickColor": "#999999", "tickSize": 3, "labelPadding": 1, "title": null}}}},
           {"mark": {"type": "area", "color": "#c1d2eb", "interpolate": "monotone"}, "encoding": {"x": {"field": "x", "type": "quantitative"}, "y": {"field": "y", "type": "quantitative"}}},
           {"data": {"values": [{}]}, "mark": {"type": "rule", "color": "#808080", "strokeWidth": 1.5}, "encoding": {"y": {"datum": 12, "type": "quantitative"}}},
           {"mark": {"type": "line", "color": "#2b3a8f", "strokeWidth": 1.6, "interpolate": "monotone"}, "encoding": {"x": {"field": "x", "type": "quantitative"}, "y": {"field": "y", "type": "quantitative"}}}
         ]},
        {"width": 146, "height": 107, "view": {"stroke": "#c8c8c8"}, "data": {"name": "curves"}, "transform": [{"filter": "datum.a === 'h2' && datum.o === 'A'"}],
         "layer": [
           {"mark": {"type": "area", "color": "#f2c4cb"}, "encoding": {"x": {"field": "x", "type": "quantitative", "scale": {"domain": [-2.31, 3.1], "nice": false, "zero": false}, "axis": {"values": [-2, -1, 0, 1, 2, 3], "tickCount": 12, "labelExpr": "'' + datum.value", "title": "Ara h2–Specific IgE (kU/liter, log10)", "titleFontSize": 9.5, "titlePadding": 3, "labelFontSize": 9.5, "labelColor": "#222222", "tickColor": "#999999", "tickSize": 3, "labelPadding": 2, "labelFlush": false, "labelBound": false}}, "y": {"datum": 100, "type": "quantitative", "scale": {"domain": [0, 100], "nice": false, "zero": false}, "axis": {"values": [0, 12, 25, 50, 75, 100], "tickCount": 12, "labelExpr": "datum.value + '%'", "labelFontSize": 9, "labelColor": "#333333", "tickColor": "#999999", "tickSize": 3, "labelPadding": 1, "title": null}}}},
           {"mark": {"type": "area", "color": "#c1d2eb", "interpolate": "monotone"}, "encoding": {"x": {"field": "x", "type": "quantitative"}, "y": {"field": "y", "type": "quantitative"}}},
           {"data": {"values": [{}]}, "mark": {"type": "rule", "color": "#808080", "strokeWidth": 1.5}, "encoding": {"y": {"datum": 12, "type": "quantitative"}}},
           {"mark": {"type": "line", "color": "#2b3a8f", "strokeWidth": 1.6, "interpolate": "monotone"}, "encoding": {"x": {"field": "x", "type": "quantitative"}, "y": {"field": "y", "type": "quantitative"}}}
         ]},
        {"width": 146, "height": 107, "view": {"stroke": "#c8c8c8"}, "data": {"name": "curves"}, "transform": [{"filter": "datum.a === 'h3' && datum.o === 'A'"}],
         "layer": [
           {"mark": {"type": "area", "color": "#f2c4cb"}, "encoding": {"x": {"field": "x", "type": "quantitative", "scale": {"domain": [-2.31, 3.1], "nice": false, "zero": false}, "axis": {"values": [-2, -1, 0, 1, 2, 3], "tickCount": 12, "labelExpr": "'' + datum.value", "title": "Ara h3–Specific IgE (kU/liter, log10)", "titleFontSize": 9.5, "titlePadding": 3, "labelFontSize": 9.5, "labelColor": "#222222", "tickColor": "#999999", "tickSize": 3, "labelPadding": 2, "labelFlush": false, "labelBound": false}}, "y": {"datum": 100, "type": "quantitative", "scale": {"domain": [0, 100], "nice": false, "zero": false}, "axis": {"values": [0, 12, 25, 50, 75, 100], "tickCount": 12, "labelExpr": "datum.value + '%'", "labelFontSize": 9, "labelColor": "#333333", "tickColor": "#999999", "tickSize": 3, "labelPadding": 1, "title": null}}}},
           {"mark": {"type": "area", "color": "#c1d2eb", "interpolate": "monotone"}, "encoding": {"x": {"field": "x", "type": "quantitative"}, "y": {"field": "y", "type": "quantitative"}}},
           {"data": {"values": [{}]}, "mark": {"type": "rule", "color": "#808080", "strokeWidth": 1.5}, "encoding": {"y": {"datum": 12, "type": "quantitative"}}},
           {"mark": {"type": "line", "color": "#2b3a8f", "strokeWidth": 1.6, "interpolate": "monotone"}, "encoding": {"x": {"field": "x", "type": "quantitative"}, "y": {"field": "y", "type": "quantitative"}}}
         ]},
        {"width": 146, "height": 107, "view": {"stroke": "#c8c8c8"}, "data": {"name": "curves"}, "transform": [{"filter": "datum.a === 'P' && datum.o === 'C'"}],
         "layer": [
           {"mark": {"type": "area", "color": "#f2c4cb"}, "encoding": {"x": {"field": "x", "type": "quantitative", "scale": {"domain": [-2.31, 3.1], "nice": false, "zero": false}, "axis": {"values": [-2, -1, 0, 1, 2, 3], "tickCount": 12, "labelExpr": "'' + datum.value", "title": "Peanut-Specific IgE (kU/liter,log10)", "titleFontSize": 9.5, "titlePadding": 3, "labelFontSize": 9.5, "labelColor": "#222222", "tickColor": "#999999", "tickSize": 3, "labelPadding": 2, "labelFlush": false, "labelBound": false}}, "y": {"datum": 100, "type": "quantitative", "scale": {"domain": [0, 100], "nice": false, "zero": false}, "axis": {"values": [0, 12, 25, 50, 75, 100], "tickCount": 12, "labelExpr": "datum.value + '%'", "labelFontSize": 9, "labelColor": "#333333", "tickColor": "#999999", "tickSize": 3, "labelPadding": 1, "title": "Consumption", "titleFont": "Lato", "titleFontSize": 13, "titlePadding": 6}}}},
           {"mark": {"type": "area", "color": "#c1d2eb", "interpolate": "monotone"}, "encoding": {"x": {"field": "x", "type": "quantitative"}, "y": {"field": "y", "type": "quantitative"}}},
           {"data": {"values": [{}]}, "mark": {"type": "rule", "color": "#808080", "strokeWidth": 1.5}, "encoding": {"y": {"datum": 12, "type": "quantitative"}}},
           {"mark": {"type": "line", "color": "#2b3a8f", "strokeWidth": 1.6, "interpolate": "monotone"}, "encoding": {"x": {"field": "x", "type": "quantitative"}, "y": {"field": "y", "type": "quantitative"}}}
         ]},
        {"width": 146, "height": 107, "view": {"stroke": "#c8c8c8"}, "data": {"name": "curves"}, "transform": [{"filter": "datum.a === 'h1' && datum.o === 'C'"}],
         "layer": [
           {"mark": {"type": "area", "color": "#f2c4cb"}, "encoding": {"x": {"field": "x", "type": "quantitative", "scale": {"domain": [-2.31, 3.1], "nice": false, "zero": false}, "axis": {"values": [-2, -1, 0, 1, 2, 3], "tickCount": 12, "labelExpr": "'' + datum.value", "title": "Ara h1–Specific IgE (kU/liter, log10)", "titleFontSize": 9.5, "titlePadding": 3, "labelFontSize": 9.5, "labelColor": "#222222", "tickColor": "#999999", "tickSize": 3, "labelPadding": 2, "labelFlush": false, "labelBound": false}}, "y": {"datum": 100, "type": "quantitative", "scale": {"domain": [0, 100], "nice": false, "zero": false}, "axis": {"values": [0, 12, 25, 50, 75, 100], "tickCount": 12, "labelExpr": "datum.value + '%'", "labelFontSize": 9, "labelColor": "#333333", "tickColor": "#999999", "tickSize": 3, "labelPadding": 1, "title": null}}}},
           {"mark": {"type": "area", "color": "#c1d2eb", "interpolate": "monotone"}, "encoding": {"x": {"field": "x", "type": "quantitative"}, "y": {"field": "y", "type": "quantitative"}}},
           {"data": {"values": [{}]}, "mark": {"type": "rule", "color": "#808080", "strokeWidth": 1.5}, "encoding": {"y": {"datum": 12, "type": "quantitative"}}},
           {"mark": {"type": "line", "color": "#2b3a8f", "strokeWidth": 1.6, "interpolate": "monotone"}, "encoding": {"x": {"field": "x", "type": "quantitative"}, "y": {"field": "y", "type": "quantitative"}}}
         ]},
        {"width": 146, "height": 107, "view": {"stroke": "#c8c8c8"}, "data": {"name": "curves"}, "transform": [{"filter": "datum.a === 'h2' && datum.o === 'C'"}],
         "layer": [
           {"mark": {"type": "area", "color": "#f2c4cb"}, "encoding": {"x": {"field": "x", "type": "quantitative", "scale": {"domain": [-2.31, 3.1], "nice": false, "zero": false}, "axis": {"values": [-2, -1, 0, 1, 2, 3], "tickCount": 12, "labelExpr": "'' + datum.value", "title": "Ara h2–Specific IgE (kU/liter, log10)", "titleFontSize": 9.5, "titlePadding": 3, "labelFontSize": 9.5, "labelColor": "#222222", "tickColor": "#999999", "tickSize": 3, "labelPadding": 2, "labelFlush": false, "labelBound": false}}, "y": {"datum": 100, "type": "quantitative", "scale": {"domain": [0, 100], "nice": false, "zero": false}, "axis": {"values": [0, 12, 25, 50, 75, 100], "tickCount": 12, "labelExpr": "datum.value + '%'", "labelFontSize": 9, "labelColor": "#333333", "tickColor": "#999999", "tickSize": 3, "labelPadding": 1, "title": null}}}},
           {"mark": {"type": "area", "color": "#c1d2eb", "interpolate": "monotone"}, "encoding": {"x": {"field": "x", "type": "quantitative"}, "y": {"field": "y", "type": "quantitative"}}},
           {"data": {"values": [{}]}, "mark": {"type": "rule", "color": "#808080", "strokeWidth": 1.5}, "encoding": {"y": {"datum": 12, "type": "quantitative"}}},
           {"mark": {"type": "line", "color": "#2b3a8f", "strokeWidth": 1.6, "interpolate": "monotone"}, "encoding": {"x": {"field": "x", "type": "quantitative"}, "y": {"field": "y", "type": "quantitative"}}}
         ]},
        {"width": 146, "height": 107, "view": {"stroke": "#c8c8c8"}, "data": {"name": "curves"}, "transform": [{"filter": "datum.a === 'h3' && datum.o === 'C'"}],
         "layer": [
           {"mark": {"type": "area", "color": "#f2c4cb"}, "encoding": {"x": {"field": "x", "type": "quantitative", "scale": {"domain": [-2.31, 3.1], "nice": false, "zero": false}, "axis": {"values": [-2, -1, 0, 1, 2, 3], "tickCount": 12, "labelExpr": "'' + datum.value", "title": "Ara h3–Specific IgE (kU/liter, log10)", "titleFontSize": 9.5, "titlePadding": 3, "labelFontSize": 9.5, "labelColor": "#222222", "tickColor": "#999999", "tickSize": 3, "labelPadding": 2, "labelFlush": false, "labelBound": false}}, "y": {"datum": 100, "type": "quantitative", "scale": {"domain": [0, 100], "nice": false, "zero": false}, "axis": {"values": [0, 12, 25, 50, 75, 100], "tickCount": 12, "labelExpr": "datum.value + '%'", "labelFontSize": 9, "labelColor": "#333333", "tickColor": "#999999", "tickSize": 3, "labelPadding": 1, "title": null}}}},
           {"mark": {"type": "area", "color": "#c1d2eb", "interpolate": "monotone"}, "encoding": {"x": {"field": "x", "type": "quantitative"}, "y": {"field": "y", "type": "quantitative"}}},
           {"data": {"values": [{}]}, "mark": {"type": "rule", "color": "#808080", "strokeWidth": 1.5}, "encoding": {"y": {"datum": 12, "type": "quantitative"}}},
           {"mark": {"type": "line", "color": "#2b3a8f", "strokeWidth": 1.6, "interpolate": "monotone"}, "encoding": {"x": {"field": "x", "type": "quantitative"}, "y": {"field": "y", "type": "quantitative"}}}
         ]}
      ]
    }
    ]
  },
  {
    "data": {"values": [{"lab": "Non-Carrier"}, {"lab": "Carrier"}]},
    "width": 500, "height": 29,
    "layer": [
      {"mark": {"type": "rect"}, "encoding": {"x": {"field": "lab", "type": "nominal", "sort": null, "scale": {"domain": ["Non-Carrier", "Carrier"], "range": [269, 490], "paddingInner": 0.111, "paddingOuter": 0}, "axis": null}, "color": {"field": "lab", "type": "nominal", "scale": {"domain": ["Non-Carrier", "Carrier"], "range": ["#f2c4cb", "#c1d2eb"]}, "legend": null}}},
      {"mark": {"type": "text", "fontSize": 15, "font": "Lato", "color": "#1a1a1a"}, "encoding": {"x": {"field": "lab", "type": "nominal", "sort": null}, "text": {"field": "lab"}}}
    ]
  }
  ]
}
]
}
